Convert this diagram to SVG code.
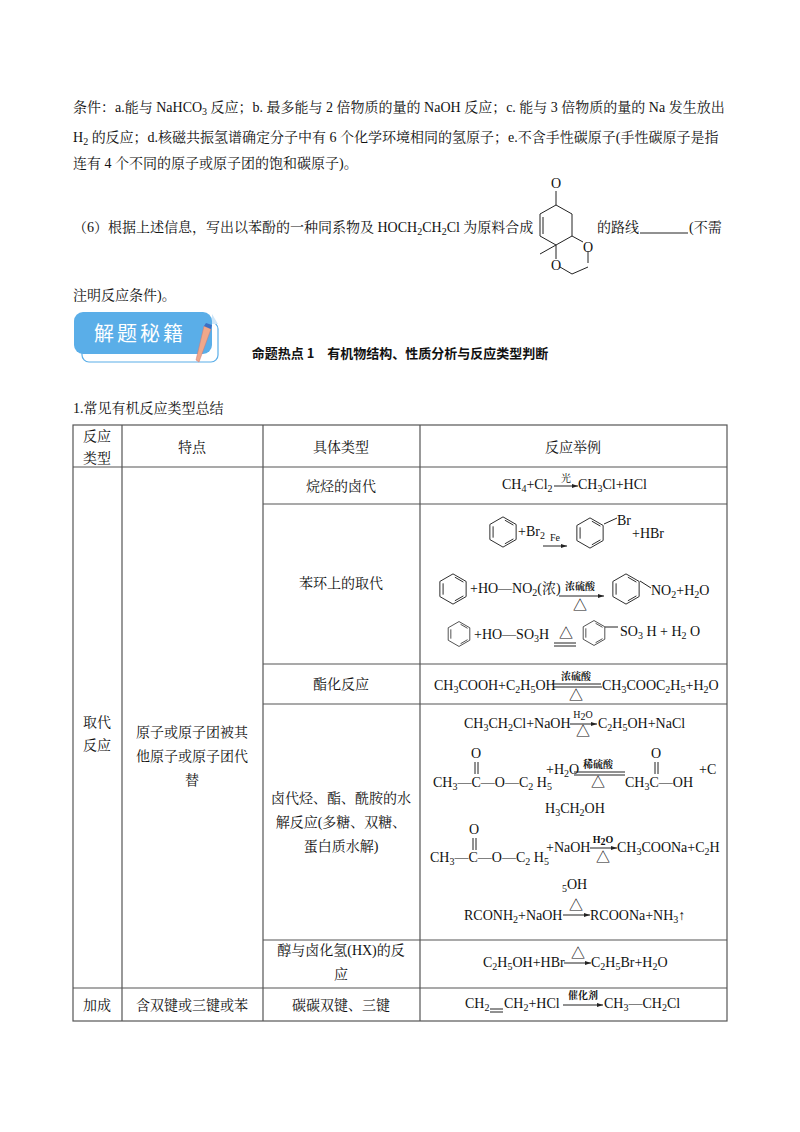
<svg xmlns="http://www.w3.org/2000/svg" width="800" height="1132" viewBox="0 0 800 1132">
<style>
text{font-family:"Liberation Serif","Noto Serif CJK SC","Noto Sans CJK SC",serif;font-size:14px;fill:#111}
.c{text-anchor:middle}
.s{font-size:10px}
.b{font-weight:bold}
.ln{stroke:#222;stroke-width:1;fill:none}
.tb{stroke:#555;stroke-width:1.2;fill:none}
</style>
<defs>
<symbol id="bz" viewBox="-18 -18 36 36" overflow="visible">
<polygon points="0,-16 13.9,-8 13.9,8 0,16 -13.9,8 -13.9,-8" fill="none" stroke="#222" stroke-width="1"/>
<path d="M-10.5,-6V6M2,-12.5L11,-7.3M2,12.5L11,7.3" stroke="#222" stroke-width="1"/>
</symbol>
<marker id="ah" markerWidth="6" markerHeight="4" refX="6" refY="2" orient="auto"><path d="M0,0L6,2L0,4z" fill="#222"/></marker>
</defs>
<rect width="800" height="1132" fill="#fff"/>
<text x="73" y="112">条件：a.能与 NaHCO<tspan class="s" dy="3">3</tspan><tspan dy="-3"> 反应；b. 最多能与 2 倍物质的量的 NaOH 反应；c. 能与 3 倍物质的量的 Na 发生放出</tspan></text>
<text x="73" y="142">H<tspan class="s" dy="3">2</tspan><tspan dy="-3"> 的反应；d.核磁共振氢谱确定分子中有 6 个化学环境相同的氢原子；e.不含手性碳原子(手性碳原子是指</tspan></text>
<text x="73" y="168">连有 4 个不同的原子或原子团的饱和碳原子)。</text>
<text x="73" y="232">（6）根据上述信息，写出以苯酚的一种同系物及 HOCH<tspan class="s" dy="3">2</tspan><tspan dy="-3">CH</tspan><tspan class="s" dy="3">2</tspan><tspan dy="-3">Cl 为原料合成</tspan></text>
<g id="mol">
<text x="556" y="188" class="c">O</text>
<path class="ln" d="M556,191V205L572,214V236M556,205L540,214V236L556,245L572,236M543,217V234M556,245L540,254M572,236L583,242M588,251V263M588,267L572,274L560,267M556,259V245"/>
<text x="588" y="252" class="c">O</text>
<text x="556" y="270" class="c">O</text>
</g>
<text x="597" y="232">的路线</text>
<path class="ln" d="M640,233H688"/>
<text x="689" y="232">(不需</text>
<text x="73" y="300">注明反应条件)。</text>
<g id="banner">
<rect x="82" y="322" width="136" height="40" rx="7" fill="#fff" stroke="#5aaee8" stroke-width="1.2"/>
<rect x="74" y="312" width="138" height="42" rx="9" fill="#5aaee8"/>
<path d="M212,314L218,324L212,324z" fill="#cfe6f8"/>
<text x="140" y="341" class="c" style="fill:#fff;font-size:20px;font-family:'Noto Sans CJK SC',sans-serif;letter-spacing:3px">解题秘籍</text>
<path d="M204,326L211,329L199,362L196,360z" fill="#f0a88a" stroke="#c77" stroke-width="0.5"/>
<path d="M204,326L211,329L212,325L206,323z" fill="#3b6fc4"/>
</g>
<text x="400" y="358" class="c b" style="font-family:'Noto Sans CJK SC',sans-serif;font-size:13px">命题热点 1　有机物结构、性质分析与反应类型判断</text>
<text x="73" y="413">1.常见有机反应类型总结</text>
<g id="table" class="tb">
<rect x="73" y="425" width="654" height="596"/>
<path d="M122,425V1021M263,425V1021M420,425V988M73,467H727M263,504H727M263,664H727M263,704H727M263,940H727M73,988H727"/>
</g>
<path class="tb" d="M420,988V1021"/>
<g id="header">
<text x="97" y="441" class="c">反应</text><text x="97" y="463" class="c">类型</text>
<text x="192" y="452" class="c">特点</text>
<text x="341" y="452" class="c">具体类型</text>
<text x="573" y="452" class="c">反应举例</text>
</g>
<text x="97" y="727" class="c">取代</text><text x="97" y="750" class="c">反应</text>
<text x="192" y="737" class="c">原子或原子团被其</text>
<text x="192" y="761" class="c">他原子或原子团代</text>
<text x="192" y="785" class="c">替</text>
<text x="341" y="491" class="c">烷烃的卤代</text>
<text x="341" y="588" class="c">苯环上的取代</text>
<text x="341" y="689" class="c">酯化反应</text>
<text x="341" y="803" class="c">卤代烃、酯、酰胺的水</text>
<text x="341" y="827" class="c">解反应(多糖、双糖、</text>
<text x="341" y="851" class="c">蛋白质水解)</text>
<text x="341" y="955" class="c">醇与卤化氢(HX)的反</text>
<text x="341" y="979" class="c">应</text>
<text x="97" y="1010" class="c">加成</text>
<text x="192" y="1010" class="c">含双键或三键或苯</text>
<text x="341" y="1010" class="c">碳碳双键、三键</text>
<g id="reactions">
<text x="502" y="489">CH<tspan class="s" dy="3">4</tspan><tspan dy="-3">+Cl</tspan><tspan class="s" dy="3">2</tspan></text>
<path class="ln" d="M554,486H578" marker-end="url(#ah)"/><text x="566" y="482" class="c s">光</text>
<text x="578" y="489">CH<tspan class="s" dy="3">3</tspan><tspan dy="-3">Cl+HCl</tspan></text>

<use href="#bz" x="486" y="515" width="34" height="34"/>
<text x="518" y="536">+Br<tspan class="s" dy="3">2</tspan></text>
<path class="ln" d="M543,546H567" marker-end="url(#ah)"/><text x="555" y="541" class="c s">Fe</text>
<use href="#bz" x="573" y="516" width="34" height="34"/>
<path class="ln" d="M604,524L617,518"/><text x="617" y="525">Br</text>
<text x="632" y="538">+HBr</text>

<use href="#bz" x="436" y="572" width="34" height="34"/>
<text x="470" y="593">+HO—NO<tspan class="s" dy="3">2</tspan><tspan dy="-3">(浓)</tspan></text>
<path class="ln" d="M559,596H604" marker-end="url(#ah)"/><text x="580" y="590" class="c s b">浓硫酸</text><text x="580" y="610" class="c">△</text>
<use href="#bz" x="609" y="572" width="34" height="34"/>
<path class="ln" d="M640,581L651,588"/><text x="651" y="595">NO<tspan class="s" dy="3">2</tspan><tspan dy="-3">+H</tspan><tspan class="s" dy="3">2</tspan><tspan dy="-3">O</tspan></text>

<use href="#bz" x="445" y="620" width="28" height="28"/>
<text x="474" y="639">+HO—SO<tspan class="s" dy="3">3</tspan><tspan dy="-3">H</tspan></text>
<path class="ln" d="M554,643H576M554,646H576"/><text x="566" y="638" class="c">△</text>
<use href="#bz" x="580" y="619" width="28" height="28"/>
<path class="ln" d="M605,627L618,627"/><text x="620" y="636">SO<tspan class="s" dy="3">3</tspan><tspan dy="-3"> H + H</tspan><tspan class="s" dy="3">2</tspan><tspan dy="-3"> O</tspan></text>

<text x="434" y="690">CH<tspan class="s" dy="3">3</tspan><tspan dy="-3">COOH+C</tspan><tspan class="s" dy="3">2</tspan><tspan dy="-3">H</tspan><tspan class="s" dy="3">5</tspan><tspan dy="-3">OH</tspan></text>
<path class="ln" d="M552,684H601M553,687H602"/><text x="576" y="680" class="c s b">浓硫酸</text><text x="576" y="700" class="c">△</text>
<text x="602" y="690">CH<tspan class="s" dy="3">3</tspan><tspan dy="-3">COOC</tspan><tspan class="s" dy="3">2</tspan><tspan dy="-3">H</tspan><tspan class="s" dy="3">5</tspan><tspan dy="-3">+H</tspan><tspan class="s" dy="3">2</tspan><tspan dy="-3">O</tspan></text>

<text x="464" y="728">CH<tspan class="s" dy="3">3</tspan><tspan dy="-3">CH</tspan><tspan class="s" dy="3">2</tspan><tspan dy="-3">Cl+NaOH</tspan></text>
<path class="ln" d="M570,724H597" marker-end="url(#ah)"/><text x="583" y="718" class="c s">H<tspan dy="2">2</tspan><tspan dy="-2">O</tspan></text><text x="583" y="736" class="c">△</text>
<text x="598" y="728">C<tspan class="s" dy="3">2</tspan><tspan dy="-3">H</tspan><tspan class="s" dy="3">5</tspan><tspan dy="-3">OH+NaCl</tspan></text>

<text x="476" y="758" class="c">O</text><path class="ln" d="M475,762V774M478,762V774"/>
<text x="433" y="787">CH<tspan class="s" dy="3">3</tspan><tspan dy="-3">—C—O—C</tspan><tspan class="s" dy="3">2</tspan><tspan dy="-3"> H</tspan><tspan class="s" dy="3">5</tspan></text>
<text x="546" y="774">+H<tspan class="s" dy="3">2</tspan><tspan dy="-3">O</tspan></text>
<path class="ln" d="M574,772H625M574,775H625"/><text x="598" y="768" class="c s b">稀硫酸</text><text x="598" y="787" class="c">△</text>
<text x="625" y="787">CH<tspan class="s" dy="3">3</tspan><tspan dy="-3">C—OH</tspan></text>
<text x="656" y="758" class="c">O</text><path class="ln" d="M655,762V774M658,762V774"/>
<text x="699" y="774">+C</text>
<text x="545" y="813">H<tspan class="s" dy="3">3</tspan><tspan dy="-3">CH</tspan><tspan class="s" dy="3">2</tspan><tspan dy="-3">OH</tspan></text>

<text x="474" y="834" class="c">O</text><path class="ln" d="M473,838V850M476,838V850"/>
<text x="430" y="862">CH<tspan class="s" dy="3">3</tspan><tspan dy="-3">—C—O—C</tspan><tspan class="s" dy="3">2</tspan><tspan dy="-3"> H</tspan><tspan class="s" dy="3">5</tspan></text>
<text x="546" y="852">+NaOH</text>
<path class="ln" d="M590,848H617" marker-end="url(#ah)"/><text x="603" y="843" class="c s b">H<tspan dy="2">2</tspan><tspan dy="-2">O</tspan></text><text x="603" y="862" class="c">△</text>
<text x="617" y="852">CH<tspan class="s" dy="3">3</tspan><tspan dy="-3">COONa+C</tspan><tspan class="s" dy="3">2</tspan><tspan dy="-3">H</tspan></text>
<text x="562" y="889"><tspan class="s" dy="3">5</tspan><tspan dy="-3">OH</tspan></text>

<text x="464" y="920">RCONH<tspan class="s" dy="3">2</tspan><tspan dy="-3">+NaOH</tspan></text>
<path class="ln" d="M563,915H590" marker-end="url(#ah)"/><text x="576" y="910" class="c">△</text>
<text x="590" y="920">RCOONa+NH<tspan class="s" dy="3">3</tspan><tspan dy="-3">↑</tspan></text>

<text x="483" y="967">C<tspan class="s" dy="3">2</tspan><tspan dy="-3">H</tspan><tspan class="s" dy="3">5</tspan><tspan dy="-3">OH+HBr</tspan></text>
<path class="ln" d="M564,963H591" marker-end="url(#ah)"/><text x="578" y="958" class="c">△</text>
<text x="591" y="967">C<tspan class="s" dy="3">2</tspan><tspan dy="-3">H</tspan><tspan class="s" dy="3">5</tspan><tspan dy="-3">Br+H</tspan><tspan class="s" dy="3">2</tspan><tspan dy="-3">O</tspan></text>

<text x="465" y="1008">CH<tspan class="s" dy="3">2</tspan></text>
<path class="ln" d="M490,1009H503M490,1012H503"/>
<text x="504" y="1008">CH<tspan class="s" dy="3">2</tspan><tspan dy="-3">+HCl</tspan></text>
<path class="ln" d="M563,1005H603" marker-end="url(#ah)"/><text x="583" y="999" class="c s b">催化剂</text>
<text x="604" y="1008">CH<tspan class="s" dy="3">3</tspan><tspan dy="-3">—CH</tspan><tspan class="s" dy="3">2</tspan><tspan dy="-3">Cl</tspan></text>
</g>
</svg>
